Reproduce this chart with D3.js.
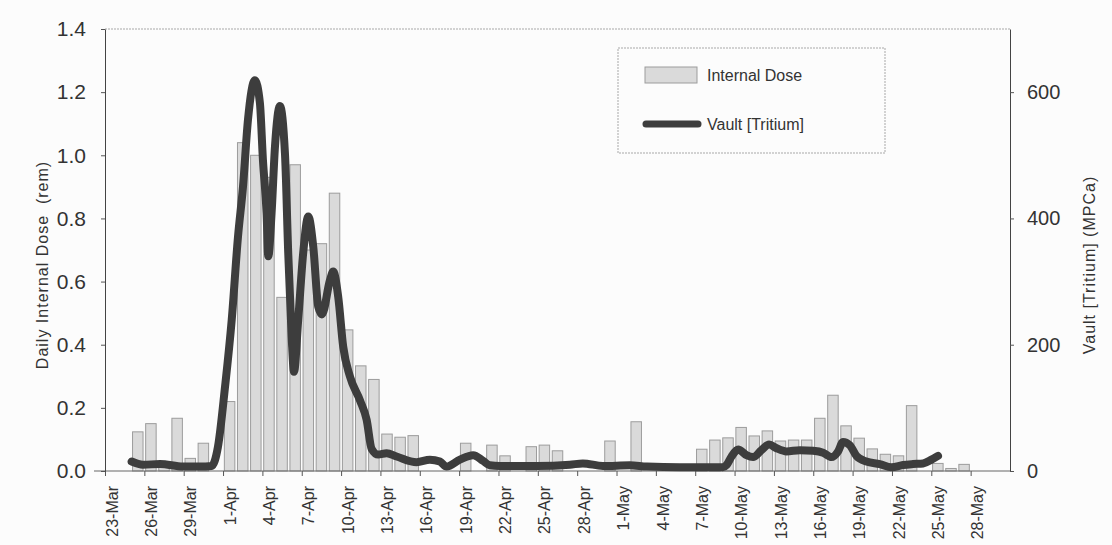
<!DOCTYPE html>
<html>
<head>
<meta charset="utf-8">
<script src="https://cdnjs.cloudflare.com/ajax/libs/d3/7.8.5/d3.min.js"></script>
<style>
  body { margin: 0; background: #fcfcfc; }
  svg { display: block; font-family: "Liberation Sans", Arial, sans-serif; }
</style>
</head>
<body>
<div id="viz"></div>
<script>
// daily internal dose (rem), one value per day from 23-Mar to 30-May
var firstDay = "2000-03-23";
var lastDay = "2000-05-31";
var dose = [
    0, 0, 0.124, 0.15, 0.03, 0.167, 0.04, 0.088, 0,
    0.22, 1.04, 1.00, 0.93, 0.55, 0.97, 0.70, 0.72, 0.88, 0.447,
    0.333, 0.29, 0.117, 0.107, 0.112, 0, 0, 0, 0.088, 0,
    0.082, 0.048, 0, 0.077, 0.082, 0.064, 0, 0, 0, 0.095,
    0, 0.156, 0, 0, 0, 0, 0.069, 0.098, 0.105, 0.138,
    0.111, 0.127, 0.095, 0.098, 0.098, 0.167, 0.24, 0.143, 0.104, 0.07,
    0.053, 0.048, 0.207, 0, 0.024, 0.008, 0.021, 0, 0, 0
];

// vault tritium (MPCa), position in days after the start of 23-Mar
var tritiumDay = [
    2.03, 2.9, 4.19, 5.95, 7.24, 8.13, 8.61, 9.15, 9.66, 10.14,
    10.52, 10.9, 11.43, 11.81, 12.04, 12.32, 12.45, 12.7, 12.96, 13.34,
    13.72, 13.97, 14.23, 14.41, 14.73, 15.11, 15.5, 15.88, 16.26, 16.54,
    17.15, 17.4, 17.78, 18.16, 18.67, 19.44, 19.95, 20.33, 20.83, 21.47,
    22.23, 23.76, 24.77, 25.53, 26.04, 27.06, 28.07, 28.83, 29.34, 30.1,
    32.9, 35.44, 36.43, 37.96, 40.02, 41.31, 43.83, 47.1, 47.39, 47.77,
    48.27, 48.91, 49.41, 50.05, 50.63, 51.2, 51.96, 52.97, 53.99, 54.75,
    55.39, 55.89, 56.27, 56.78, 57.29, 58.05, 59.07, 59.96, 60.85, 61.61,
    62.37, 63.01, 63.51
];
var tritiumValue = [
    15, 10, 11, 7, 7, 8, 38, 133, 239, 371,
    450, 556, 619, 583, 493, 408, 340, 408, 514, 578,
    503, 345, 213, 157, 239, 345, 403, 355, 260, 248,
    302, 316, 276, 197, 150, 112, 81, 35, 26, 28,
    23, 14, 18, 15, 7, 18, 25, 16, 9, 8,
    8, 10, 12, 8, 9, 7, 6, 6, 9.5, 23,
    34, 25, 22, 33, 42, 36, 31, 33, 32, 29,
    22, 31, 46, 41, 24, 15, 11, 6, 9.5, 11,
    12, 18, 24
];

var xTickLabels = ["23-Mar", "26-Mar", "29-Mar", "1-Apr", "4-Apr", "7-Apr", "10-Apr", "13-Apr",
    "16-Apr", "19-Apr", "22-Apr", "25-Apr", "28-Apr", "1-May", "4-May", "7-May", "10-May",
    "13-May", "16-May", "19-May", "22-May", "25-May", "28-May"];
var yTicks = [0, 0.2, 0.4, 0.6, 0.8, 1.0, 1.2, 1.4];
var y2Ticks = [0, 200, 400, 600];

var plotLeft = 105, plotRight = 1010, plotTop = 29, plotBottom = 471;
var dayMs = 864e5;

var svg = d3.select("#viz")
    .append("svg")
    .attr("width", 1112)
    .attr("height", 545);

var start = d3.isoParse(firstDay);
var x = d3.scaleUtc()
    .domain([start, d3.isoParse(lastDay)])
    .range([plotLeft, plotRight]);
var dayW = x(new Date(+start + dayMs)) - x(start);

var y = d3.scaleLinear().domain([0, 1.4]).range([plotBottom, plotTop]);
var y2 = d3.scaleLinear().domain([0, 700]).range([plotBottom, plotTop]);

// top frame line
svg.append("line")
    .attr("x1", plotLeft).attr("x2", plotRight)
    .attr("y1", plotTop).attr("y2", plotTop)
    .attr("stroke", "#a8a8a8")
    .attr("stroke-dasharray", "2,1");

// bars
svg.append("g")
    .selectAll("rect")
    .data(dose.map(function (v, i) { return {d: new Date(+start + i * dayMs), v: v}; })
        .filter(function (d) { return d.v > 0; }))
    .enter().append("rect")
    .attr("x", function (d) { return x(d.d) + dayW * 0.1; })
    .attr("width", dayW * 0.8)
    .attr("y", function (d) { return y(d.v); })
    .attr("height", function (d) { return plotBottom - y(d.v); })
    .attr("fill", "#dadada")
    .attr("stroke", "#9c9c9c")
    .attr("stroke-width", 1);

// x axis
var tickDates = xTickLabels.map(function (l, i) { return new Date(+start + i * 3 * dayMs); });
svg.append("line")
    .attr("x1", 94).attr("x2", plotRight)
    .attr("y1", plotBottom).attr("y2", plotBottom)
    .attr("stroke", "#666");
var xAxis = svg.append("g")
    .attr("transform", "translate(0," + plotBottom + ")")
    .call(d3.axisBottom(x)
        .tickValues(tickDates)
        .tickFormat(function (d, i) { return xTickLabels[i]; })
        .tickSize(5));
xAxis.select(".domain").remove();
xAxis.selectAll("line").attr("stroke", "#555");
xAxis.selectAll("text")
    .attr("x", -15)
    .attr("y", 0)
    .attr("dy", "0.35em")
    .attr("transform", "translate(" + dayW / 2 + ",0) rotate(-90)")
    .style("text-anchor", "end")
    .style("font-size", "16px")
    .attr("fill", "#333");

// left axis
var yAxis = svg.append("g")
    .attr("transform", "translate(" + plotLeft + ",0)")
    .call(d3.axisLeft(y).tickValues(yTicks).tickFormat(d3.format(".1f")).tickSize(4).tickPadding(15).tickSizeOuter(0));
yAxis.select(".domain").attr("stroke", "#444");
yAxis.selectAll("line").attr("stroke", "#555");
yAxis.selectAll("text").style("font-size", "21px").attr("fill", "#333");

// right axis
var y2Axis = svg.append("g")
    .attr("transform", "translate(" + plotRight + ",0)")
    .call(d3.axisRight(y2).tickValues(y2Ticks).tickSize(4).tickPadding(13).tickSizeOuter(0));
y2Axis.select(".domain").attr("stroke", "#444");
y2Axis.selectAll("line").attr("stroke", "#555");
y2Axis.selectAll("text").style("font-size", "20px").attr("fill", "#333");

// tritium line
svg.append("path")
    .datum(tritiumDay.map(function (t, i) { return [t, tritiumValue[i]]; }))
    .attr("fill", "none")
    .attr("stroke", "#3d3d3d")
    .attr("stroke-width", 8)
    .attr("stroke-linejoin", "round")
    .attr("stroke-linecap", "round")
    .attr("d", d3.line()
        .curve(d3.curveMonotoneX)
        .x(function (d) { return x(new Date(+start + d[0] * dayMs)); })
        .y(function (d) { return y2(d[1]); }));

// axis titles
svg.append("text")
    .attr("transform", "translate(48,265) rotate(-90)")
    .attr("text-anchor", "middle")
    .style("font-size", "16px")
    .style("letter-spacing", "1px")
    .style("white-space", "pre")
    .attr("fill", "#333")
    .text("Daily Internal Dose  (rem)");
svg.append("text")
    .attr("transform", "translate(1095,265) rotate(-90)")
    .attr("text-anchor", "middle")
    .style("font-size", "16px")
    .style("letter-spacing", "1px")
    .attr("fill", "#333")
    .text("Vault [Tritium] (MPCa)");

// legend
var legend = svg.append("g");
legend.append("rect")
    .attr("x", 618).attr("y", 48)
    .attr("width", 267).attr("height", 105)
    .attr("fill", "#fcfcfc")
    .attr("stroke", "#a8a8a8")
    .attr("stroke-dasharray", "2,1");
legend.append("rect")
    .attr("x", 645).attr("y", 67)
    .attr("width", 52).attr("height", 16)
    .attr("fill", "#dadada")
    .attr("stroke", "#9c9c9c");
legend.append("text")
    .attr("x", 707).attr("y", 81)
    .style("font-size", "16px")
    .attr("fill", "#333")
    .text("Internal Dose");
legend.append("line")
    .attr("x1", 646).attr("x2", 698)
    .attr("y1", 124).attr("y2", 124)
    .attr("stroke", "#3d3d3d")
    .attr("stroke-width", 7)
    .attr("stroke-linecap", "round");
legend.append("text")
    .attr("x", 707).attr("y", 130)
    .style("font-size", "16px")
    .attr("fill", "#333")
    .text("Vault [Tritium]");
</script>
</body>
</html>
